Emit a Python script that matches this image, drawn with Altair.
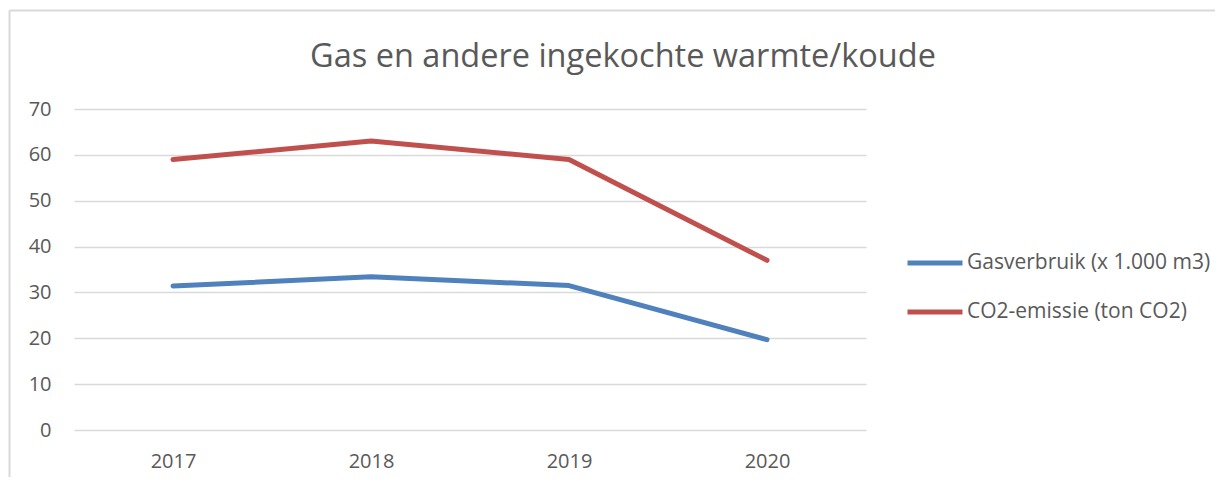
import altair as alt
import pandas as pd

years = ["2017", "2018", "2019", "2020"]
series_names = ["Gasverbruik (x 1.000 m3)", "CO2-emissie  (ton CO2)"]
gas = [31.4, 33.4, 31.5, 19.7]
co2 = [59.0, 63.0, 59.0, 37.0]
series_colors = ["#4f81bd", "#c0504d"]
title_text = "Gas en andere ingekochte warmte/koude"

rows = []
for name, vals in zip(series_names, [gas, co2]):
    for y, v in zip(years, vals):
        rows.append({"year": y, "series": name, "value": v})
df = pd.DataFrame(rows)

FONT = "Open Sans"
TXT = "#595959"

lines = alt.Chart(df).mark_line(strokeWidth=5, strokeCap="round", strokeJoin="round").encode(
    x=alt.X("year:O", scale=alt.Scale(type="point", padding=0.5),
            axis=alt.Axis(title=None, labelAngle=0, domain=False, ticks=False, tickSize=0,
                          labelPadding=21, labelFontSize=20, labelColor=TXT, labelFont=FONT, grid=False)),
    y=alt.Y("value:Q", scale=alt.Scale(domain=[0, 70], nice=False),
            axis=alt.Axis(title=None, values=list(range(0, 71, 10)), domain=False, ticks=False, tickSize=0,
                          labelPadding=23, labelFontSize=20, labelColor=TXT, labelFont=FONT,
                          grid=True, gridColor="#d9d9d9", gridWidth=1.5)),
    color=alt.Color("series:N", scale=alt.Scale(domain=series_names, range=series_colors),
                    sort=series_names,
                    legend=alt.Legend(title=None, orient="none", legendX=831, legendY=124,
                                      symbolType="stroke", symbolSize=3025, symbolStrokeWidth=5,
                                      labelFontSize=21, labelFont=FONT, labelColor=TXT, labelLimit=0,
                                      labelOffset=2, rowPadding=9, padding=0)),
)

title = alt.Chart(alt.Data(values=[{"t": title_text}])).mark_text(
    font=FONT, fontSize=32.5, color=TXT, align="center", baseline="alphabetic"
).encode(text="t:N", x=alt.value(549), y=alt.value(-42))

border = alt.Chart(alt.Data(values=[{}])).mark_rule(color="#d9d9d9", strokeWidth=2).encode(
    x=alt.value(-64.5), x2=alt.value(1160), y=alt.value(-98.5))
border_left = alt.Chart(alt.Data(values=[{}])).mark_rule(color="#d9d9d9", strokeWidth=2).encode(
    x=alt.value(-64.5), y=alt.value(-98.5), y2=alt.value(400))

chart = alt.layer(border, border_left, lines, title).properties(
    width=792, height=321,
    autosize=alt.AutoSizeParams(type="none"),
    padding={"left": 66, "top": 101, "right": 349, "bottom": 47},
    background="white",
).configure_view(stroke=None)

chart.save("out.html", embed_options={"renderer": "svg", "actions": False})
